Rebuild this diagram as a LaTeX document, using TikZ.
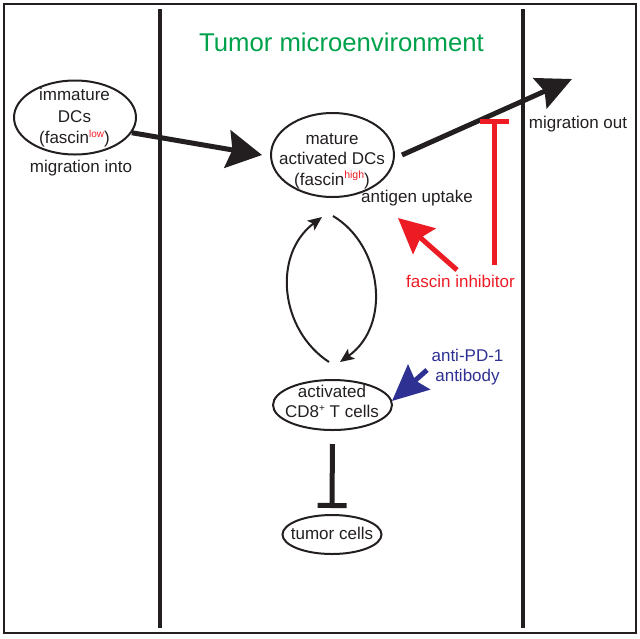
\documentclass[tikz,border=0pt]{standalone}
\usepackage{fontspec}
\setmainfont{Liberation Sans}
\usetikzlibrary{arrows.meta,shapes.geometric}
\definecolor{tgreen}{RGB}{0,161,75}
\definecolor{tred}{RGB}{237,28,36}
\definecolor{tblue}{RGB}{46,49,146}
\definecolor{ink}{RGB}{35,31,32}
\newcommand\supx[2]{\raisebox{6.5pt}{\fontsize{#1}{#1}\selectfont #2}}
\begin{document}
\begin{tikzpicture}[x=1pt,y=-1pt,
  lbl/.style={font=\fontsize{17}{20}\selectfont, text=ink, inner sep=0pt},
  cell/.style={ellipse, draw=ink, line width=2pt, inner sep=0pt},
  wall/.style={draw=ink, line width=4pt},
  bigarrow/.style={draw=ink, line width=5pt, -{Stealth[length=35pt,width=38pt,inset=5pt]}},
  outarrow/.style={draw=ink, line width=5pt, -{Stealth[length=35pt,width=33pt,inset=5pt]}},
  redarrow/.style={draw=tred, line width=5pt, -{Stealth[length=35pt,width=34pt,inset=5pt]}},
  bluearrow/.style={draw=tblue, line width=5pt, -{Stealth[length=36pt,width=33pt,inset=5pt]}},
  redbar/.style={draw=tred, line width=5pt, -{Bar[width=29pt]}},
  blackbar/.style={draw=ink, line width=5pt, -{Bar[width=29pt]}},
  cyclearrow/.style={draw=ink, line width=2pt, -{Stealth[length=14pt,width=12pt,inset=3pt]}}
]
\useasboundingbox (0,0) rectangle (640,638);
\draw[ink, line width=2.5pt] (4,4) rectangle (636,633);
\draw[wall] (160,9) -- (160,628);
\draw[wall] (523,9) -- (523,628);

\node[lbl, font=\fontsize{25.7}{30}\selectfont, text=tgreen, anchor=base] (title) at (341.5,51) {Tumor microenvironment};

% immature DCs
\node[cell, minimum width=122pt, minimum height=74pt] (imm) at (75,117.5) {};
\node[lbl, font=\fontsize{17}{21.5}\selectfont, align=center] (immtxt) at (74.5,118) {immature\\DCs\\(fascin\supx{10}{\textcolor{tred}{low}})};
\node[lbl, anchor=base] (into) at (81,172) {migration into};

% mature DCs
\node[cell, minimum width=123pt, minimum height=84pt] (mat) at (332.5,155) {};
\node[lbl, font=\fontsize{17}{20.5}\selectfont, align=center] (mattxt) at (332,161) {mature\\activated DCs\\(fascin\supx{10.5}{\textcolor{tred}{high}})};
\node[lbl, anchor=base] (upt) at (417,202) {antigen uptake};
\node[lbl, anchor=base] (out) at (578,128) {migration out};

% inhibitors
\node[lbl, text=tred, anchor=base] (inh) at (460.5,287) {fascin inhibitor};
\node[lbl, text=tblue, align=center] (pd) at (467.5,366.7) {anti-PD-1\\antibody};

% CD8 T cells
\node[cell, minimum width=119pt, minimum height=50pt] (cd8) at (332.5,405) {};
\node[lbl, align=center] (cd8txt) at (332,401.5) {activated\\CD8\supx{10}{+} T cells};

% tumor cells
\node[cell, minimum width=99pt, minimum height=39pt] (tum) at (332,534.5) {};
\node[lbl, anchor=base] (tumtxt) at (332,539) {tumor cells};

% coordinates
\coordinate (outtip) at (572,79);
\coordinate (rtail) at (457,270);
\coordinate (rtip) at (398,218);
\coordinate (ttail) at (494,265);
\coordinate (ttip) at (494,119);
\coordinate (btail) at (427,370);
\coordinate (btip) at (392,401);
\coordinate (c1s) at (329,362);
\coordinate (c1e) at (322,217);
\coordinate (c2s) at (333,216);
\coordinate (c2e) at (340,362);

% connectors
\draw[bigarrow] (imm.-15) -- ([xshift=-8pt]mat.west);
\draw[outarrow] ([xshift=7pt]mat.east) -- (outtip);
\draw[redbar] (ttail) -- (ttip);
\draw[redarrow] (rtail) -- (rtip);
\draw[bluearrow] (btail) -- (btip);
\draw[cyclearrow] (c1s) .. controls (280,330) and (272,255) .. (c1e);
\draw[cyclearrow] (c2s) .. controls (382,245) and (392,325) .. (c2e);
\draw[blackbar, shorten <=13pt, shorten >=6pt] (cd8.south) -- (tum.north);
\end{tikzpicture}
\end{document}
